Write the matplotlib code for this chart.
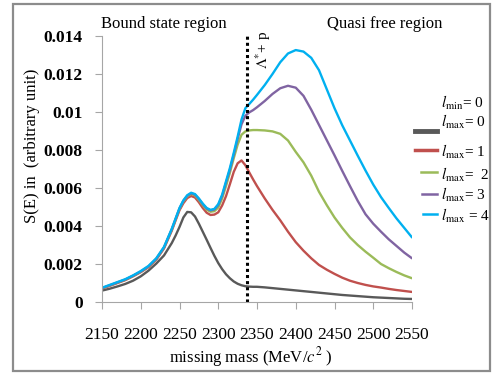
import matplotlib
matplotlib.use("Agg")
import matplotlib.pyplot as plt
from matplotlib.lines import Line2D
from matplotlib.patches import Rectangle

plt.rcParams['font.family'] = ['Liberation Serif', 'DejaVu Serif']
plt.rcParams['mathtext.fontset'] = 'stix'

# missing mass (MeV/c^2)
mass = [2150, 2160, 2170, 2180, 2190, 2200, 2210, 2220, 2230, 2240,
        2245, 2250, 2255, 2260, 2265, 2270, 2275, 2280, 2285, 2290, 2295,
        2300, 2305, 2310, 2315, 2320, 2325, 2330, 2335, 2340, 2345,
        2350, 2360, 2370, 2380, 2390, 2400, 2410, 2420, 2430, 2440, 2450,
        2460, 2470, 2480, 2490, 2500, 2510, 2520, 2530, 2540, 2550]

s_lmax0 = [0.00060, 0.00070, 0.00082, 0.00095, 0.00112, 0.00135, 0.00165, 0.00202, 0.00245, 0.00310,
           0.00350, 0.00395, 0.00445, 0.00474, 0.00472, 0.00450, 0.00412, 0.00370, 0.00328, 0.00285, 0.00243,
           0.00205, 0.00173, 0.00146, 0.00125, 0.00108, 0.00096, 0.00088, 0.00083, 0.00081, 0.00080,
           0.00080, 0.00077, 0.00073, 0.00069, 0.00065, 0.00061, 0.00057, 0.00053, 0.00049, 0.00045, 0.00041,
           0.00037, 0.00034, 0.00031, 0.00028, 0.00025, 0.00023, 0.00021, 0.00019, 0.00017, 0.00016]

s_lmax1 = [0.00070, 0.00085, 0.00100, 0.00115, 0.00135, 0.00157, 0.00183, 0.00222, 0.00282, 0.00375,
           0.00430, 0.00483, 0.00520, 0.00547, 0.00558, 0.00550, 0.00525, 0.00495, 0.00470, 0.00458, 0.00460,
           0.00472, 0.00508, 0.00557, 0.00620, 0.00685, 0.00730, 0.00745, 0.00720, 0.00682, 0.00645,
           0.00610, 0.00545, 0.00485, 0.00430, 0.00370, 0.00315, 0.00270, 0.00230, 0.00195, 0.00170, 0.00148,
           0.00128, 0.00112, 0.00100, 0.00090, 0.00082, 0.00076, 0.00069, 0.00063, 0.00058, 0.00053]

s_lmax2 = [0.00072, 0.00087, 0.00102, 0.00117, 0.00137, 0.00159, 0.00186, 0.00226, 0.00286, 0.00380,
           0.00435, 0.00490, 0.00530, 0.00556, 0.00569, 0.00561, 0.00537, 0.00510, 0.00486, 0.00475, 0.00478,
           0.00497, 0.00545, 0.00610, 0.00680, 0.00757, 0.00828, 0.00880, 0.00898, 0.00903, 0.00905,
           0.00905, 0.00903, 0.00898, 0.00885, 0.00850, 0.00790, 0.00735, 0.00665, 0.00580, 0.00510, 0.00445,
           0.00390, 0.00340, 0.00300, 0.00265, 0.00233, 0.00200, 0.00178, 0.00158, 0.00140, 0.00125]

s_lmax3 = [0.00073, 0.00088, 0.00103, 0.00118, 0.00138, 0.00160, 0.00187, 0.00227, 0.00287, 0.00382,
           0.00437, 0.00492, 0.00532, 0.00559, 0.00572, 0.00565, 0.00542, 0.00515, 0.00492, 0.00482, 0.00487,
           0.00510, 0.00558, 0.00628, 0.00695, 0.00775, 0.00858, 0.00935, 0.00980, 0.00998, 0.01010,
           0.01025, 0.01058, 0.01095, 0.01125, 0.01138, 0.01128, 0.01085, 0.01012, 0.00932, 0.00852, 0.00772,
           0.00690, 0.00610, 0.00532, 0.00462, 0.00412, 0.00370, 0.00330, 0.00295, 0.00260, 0.00230]

s_lmax4 = [0.00075, 0.00090, 0.00105, 0.00120, 0.00140, 0.00163, 0.00190, 0.00230, 0.00290, 0.00385,
           0.00440, 0.00495, 0.00535, 0.00562, 0.00575, 0.00568, 0.00545, 0.00518, 0.00495, 0.00485, 0.00490,
           0.00515, 0.00565, 0.00635, 0.00705, 0.00785, 0.00870, 0.00960, 0.01020, 0.01042, 0.01065,
           0.01090, 0.01142, 0.01200, 0.01262, 0.01308, 0.01326, 0.01318, 0.01285, 0.01220, 0.01120, 0.01020,
           0.00930, 0.00850, 0.00770, 0.00692, 0.00618, 0.00552, 0.00495, 0.00440, 0.00390, 0.00340]

threshold = 2337  # Lambda* + p

series = [s_lmax0, s_lmax1, s_lmax2, s_lmax3, s_lmax4]
colors = ['#595959', '#C0504D', '#9BBB59', '#8064A2', '#00B0F0']
labels = [r'$l_{\mathrm{max}}$= 0', r'$l_{\mathrm{max}}$= 1', r'$l_{\mathrm{max}}$=  2',
          r'$l_{\mathrm{max}}$= 3', r'$l_{\mathrm{max}}$ = 4']

W, H = 496, 373
fig = plt.figure(figsize=(W / 100, H / 100), dpi=100)
ax = fig.add_axes([102 / W, 1 - 302 / H, 310 / W, 266 / H])

for s, c in zip(series, colors):
    ax.plot(mass, s, color=c, lw=1.7, solid_capstyle='round', solid_joinstyle='round')

ax.axvline(threshold, color='black', lw=2.2, ls=(0, (1, 1)))

ax.set_xlim(2150, 2550)
ax.set_ylim(0, 0.014)
ax.set_xticks(range(2150, 2551, 50))
ax.set_yticks([0, 0.002, 0.004, 0.006, 0.008, 0.01, 0.012, 0.014])
ax.set_yticklabels(['0', '0.002', '0.004', '0.006', '0.008', '0.01', '0.012', '0.014'],
                   fontweight='bold')
for sp in ['top', 'right']:
    ax.spines[sp].set_visible(False)
for sp in ['left', 'bottom']:
    ax.spines[sp].set_color('#A6A6A6')
ax.tick_params(axis='both', colors='#A6A6A6', labelcolor='black', length=5, labelsize=12.5)
ax.tick_params(axis='x', pad=13, labelsize=12.5)
ax.tick_params(axis='y', pad=9)

ax.set_xlabel('missing mass (MeV/$c^2$ )', fontsize=12)
ax.xaxis.set_label_coords((251 - 102) / 310, -(345 - 302) / 266)
ax.set_ylabel('S(E) in  (arbitrary unit)', fontsize=12)
ax.yaxis.set_label_coords(-(102 - 40) / 310, (302 - 146) / 266)

def fx(x):
    return x / W

def fy(y):
    return 1 - y / H

fig.text(fx(101), fy(24), 'Bound state region', fontsize=12, va='center', ha='left')
fig.text(fx(327), fy(24), 'Quasi free region', fontsize=12, va='center', ha='left')
fig.text(fx(263), fy(50), r'$\Lambda^{*}$+ p', fontsize=11, rotation=90,
         va='center', ha='center')

# legend drawn by hand to follow the original layout
fig.text(fx(441), fy(103), r'$l_{\mathrm{min}}$= 0', fontsize=11, va='center')
leg_y = [131, 150, 172, 194, 214]
leg_txt_y = [122, 152, 175, 195, 216]
leg_x0 = [415, 415, 421, 422, 423]
leg_lw = [3.5, 2.5, 1.8, 1.8, 1.8]
for y, ty, x0, lw, c, lab in zip(leg_y, leg_txt_y, leg_x0, leg_lw, colors, labels):
    fig.add_artist(Line2D([fx(x0), fx(437)], [fy(y), fy(y)], color=c, lw=lw,
                          transform=fig.transFigure))
    fig.text(fx(441), fy(ty), lab, fontsize=11, va='center')

fig.add_artist(Rectangle((fx(13), fy(371)), fx(490 - 13), (371 - 4) / H,
                         transform=fig.transFigure, fill=False,
                         edgecolor='#8C8C8C', lw=1.6))

fig.savefig('out.png', dpi=100)
